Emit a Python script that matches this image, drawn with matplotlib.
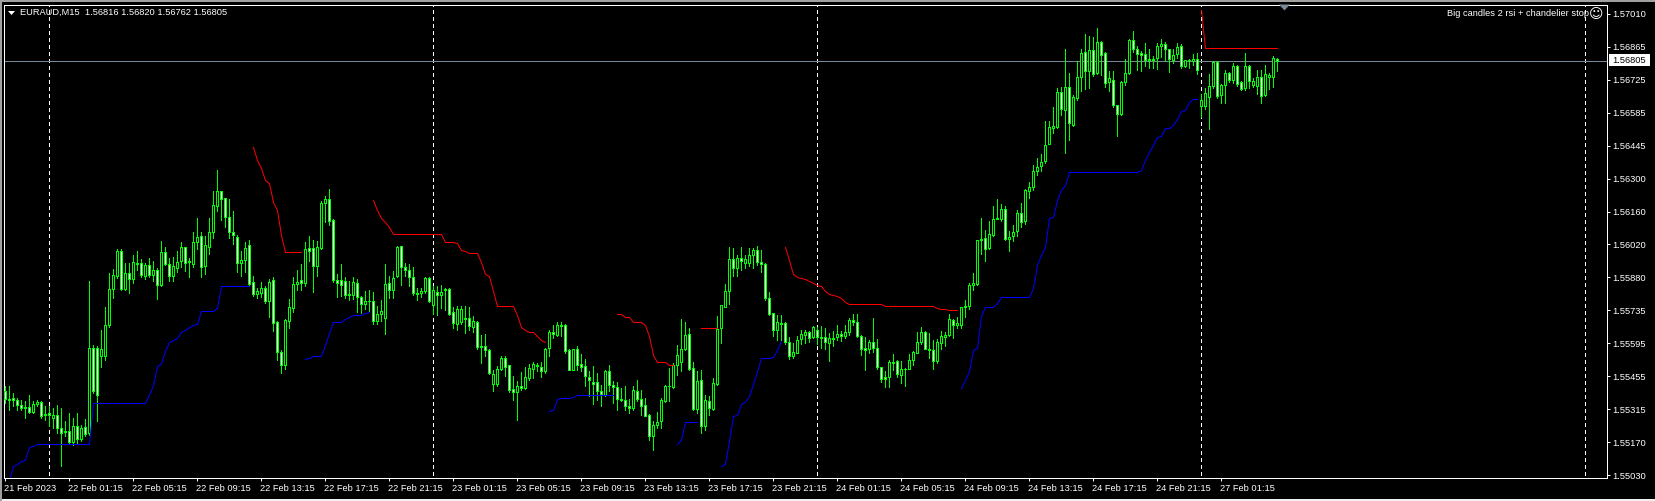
import numpy as np
import matplotlib
matplotlib.use('Agg')
import matplotlib.pyplot as plt
from matplotlib.patches import Polygon, Rectangle

# prices are stored as points above this base (1 point = 0.00001)
BASE = 1.55
POINT = 0.00001

opens = [
    391, 356, 362, 355, 333, 325, 325, 301, 335, 343,
    295, 296, 275, 291, 233, 219, 219, 172, 244, 186,
    238, 212, 576, 576, 543, 543, 677, 831, 886, 993,
    831, 897, 874, 940, 940, 887, 933, 891, 911, 847,
    987, 936, 883, 921, 950, 1008, 950, 937, 1032, 1057,
    926, 1010, 1075, 1186, 1249, 1218, 1139, 1075, 1054, 942,
    954, 1018, 860, 807, 811, 833, 776, 868, 689, 559,
    502, 694, 747, 851, 867, 854, 1004, 1004, 926, 1004,
    1197, 1214, 1125, 868, 868, 864, 808, 802, 854, 793,
    764, 778, 779, 690, 721, 707, 854, 823, 884, 1012,
    924, 912, 881, 813, 813, 821, 878, 760, 818, 804,
    829, 830, 730, 680, 686, 702, 705, 666, 687, 586,
    583, 569, 422, 423, 486, 535, 502, 400, 386, 415,
    403, 448, 487, 505, 495, 476, 576, 645, 633, 676,
    676, 569, 483, 573, 509, 500, 452, 432, 432, 392,
    376, 477, 418, 409, 358, 355, 329, 318, 393, 358,
    333, 291, 201, 245, 262, 348, 415, 409, 505, 516,
    573, 636, 490, 316, 439, 244, 349, 316, 423, 664,
    754, 819, 957, 921, 961, 940, 940, 975, 997, 944,
    936, 790, 726, 652, 683, 683, 602, 540, 557, 615,
    633, 644, 623, 652, 623, 623, 599, 619, 622, 636,
    626, 643, 696, 687, 629, 576, 573, 602, 576, 495,
    450, 450, 517, 520, 460, 487, 487, 523, 557, 600,
    644, 573, 569, 519, 599, 623, 633, 696, 674, 676,
    750, 757, 846, 851, 1040, 1048, 1004, 1060, 1133, 1130,
    1172, 1044, 1055, 1077, 1155, 1120, 1248, 1265, 1335, 1355,
    1376, 1452, 1519, 1524, 1673, 1595, 1695, 1532, 1648, 1740,
    1845, 1762, 1852, 1755, 1887, 1840, 1716, 1726, 1616, 1579,
    1716, 1755, 1895, 1857, 1840, 1835, 1815, 1816, 1819, 1869,
    1880, 1857, 1812, 1837, 1872, 1783, 1812, 1806, 1815, 1612,
    1612, 1651, 1698, 1802, 1661, 1705, 1755, 1723, 1785, 1716,
    1690, 1785, 1702, 1700, 1738, 1659, 1738, 1738, 1816,
]
highs = [
    412, 415, 383, 362, 355, 348, 376, 348, 352, 348,
    326, 326, 319, 333, 319, 262, 298, 276, 298, 248,
    272, 864, 590, 583, 655, 754, 897, 914, 1000, 1000,
    940, 940, 976, 990, 957, 940, 961, 950, 918, 1035,
    1011, 961, 968, 990, 1032, 1010, 960, 1075, 1132, 1074,
    1058, 1132, 1250, 1338, 1249, 1220, 1215, 1165, 1060, 990,
    1032, 1040, 885, 833, 858, 840, 870, 880, 690, 567,
    700, 785, 880, 910, 935, 1032, 1055, 1040, 1035, 1205,
    1230, 1257, 1130, 895, 937, 880, 865, 880, 870, 800,
    822, 823, 818, 758, 783, 935, 887, 905, 1012, 1015,
    941, 938, 924, 834, 834, 880, 881, 840, 843, 847,
    833, 833, 754, 757, 757, 757, 751, 712, 690, 633,
    637, 572, 483, 500, 543, 543, 505, 455, 433, 472,
    497, 507, 515, 512, 515, 576, 652, 676, 689, 687,
    680, 573, 573, 586, 552, 529, 476, 500, 469, 419,
    480, 505, 433, 429, 405, 415, 358, 412, 440, 398,
    362, 295, 263, 300, 362, 419, 490, 512, 590, 702,
    687, 662, 516, 476, 480, 376, 369, 447, 712, 762,
    851, 1008, 1004, 975, 1008, 975, 1004, 1007, 1014, 997,
    940, 818, 726, 719, 719, 686, 625, 597, 626, 654,
    654, 648, 671, 668, 669, 660, 640, 648, 673, 651,
    675, 703, 720, 722, 630, 625, 610, 706, 617, 497,
    478, 524, 551, 525, 520, 490, 552, 565, 643, 666,
    650, 640, 610, 617, 651, 646, 722, 700, 710, 752,
    782, 855, 897, 1040, 1134, 1084, 1122, 1186, 1215, 1192,
    1187, 1078, 1104, 1170, 1199, 1260, 1290, 1362, 1389, 1410,
    1548, 1551, 1610, 1690, 1696, 1857, 1756, 1660, 1805, 1859,
    1923, 1913, 1909, 1948, 1892, 1845, 1765, 1765, 1620, 1720,
    1816, 1900, 1935, 1870, 1848, 1885, 1856, 1828, 1882, 1900,
    1887, 1860, 1860, 1882, 1880, 1811, 1815, 1837, 1840, 1665,
    1690, 1750, 1806, 1805, 1710, 1767, 1758, 1798, 1790, 1720,
    1842, 1790, 1735, 1768, 1770, 1790, 1755, 1827, 1820,
]
lows = [
    341, 312, 326, 312, 312, 276, 298, 298, 326, 276,
    266, 241, 234, 212, 72, 198, 169, 162, 169, 176,
    198, 205, 383, 262, 495, 526, 666, 790, 876, 823,
    823, 811, 854, 911, 880, 871, 880, 864, 787, 840,
    931, 864, 864, 903, 925, 905, 880, 925, 1000, 880,
    895, 980, 1050, 1165, 1125, 1095, 1050, 1020, 900, 885,
    900, 845, 800, 790, 795, 770, 710, 650, 525, 468,
    485, 662, 730, 825, 825, 840, 950, 815, 883, 1000,
    1115, 1105, 860, 797, 800, 790, 780, 785, 730, 725,
    745, 735, 680, 680, 690, 635, 790, 790, 881, 848,
    887, 841, 805, 784, 796, 813, 773, 720, 719, 747,
    740, 719, 662, 654, 680, 640, 654, 647, 573, 512,
    540, 466, 390, 412, 483, 455, 386, 355, 266, 397,
    400, 440, 447, 476, 452, 469, 540, 619, 626, 629,
    557, 480, 480, 483, 476, 412, 369, 338, 355, 326,
    369, 390, 340, 312, 348, 312, 298, 312, 350, 291,
    283, 181, 138, 233, 233, 345, 348, 405, 462, 479,
    569, 480, 312, 298, 212, 226, 291, 312, 419, 597,
    751, 766, 883, 887, 911, 918, 926, 918, 933, 900,
    780, 719, 626, 612, 612, 595, 529, 533, 555, 595,
    597, 600, 619, 592, 576, 570, 519, 583, 610, 608,
    620, 630, 674, 625, 545, 480, 555, 560, 485, 430,
    408, 410, 483, 450, 427, 412, 487, 505, 553, 595,
    570, 535, 485, 510, 570, 585, 628, 618, 660, 660,
    710, 745, 825, 847, 981, 948, 1000, 1055, 1130, 1120,
    1040, 990, 1033, 1055, 1093, 1110, 1220, 1255, 1317, 1337,
    1370, 1450, 1500, 1520, 1576, 1413, 1470, 1530, 1640, 1680,
    1685, 1690, 1743, 1750, 1747, 1695, 1680, 1610, 1487, 1575,
    1705, 1750, 1846, 1768, 1765, 1785, 1775, 1775, 1773, 1825,
    1805, 1761, 1800, 1820, 1778, 1780, 1775, 1790, 1750, 1568,
    1600, 1514, 1690, 1650, 1625, 1628, 1718, 1712, 1700, 1682,
    1682, 1690, 1695, 1665, 1625, 1655, 1686, 1695, 1762,
]
closes = [
    358, 354, 352, 331, 318, 318, 301, 336, 346, 283,
    289, 291, 288, 232, 212, 215, 172, 244, 186, 234,
    209, 576, 392, 376, 572, 674, 829, 889, 993, 831,
    897, 874, 944, 938, 890, 933, 890, 911, 847, 987,
    937, 886, 927, 946, 1008, 940, 945, 1032, 1054, 923,
    1018, 1075, 1190, 1249, 1214, 1139, 1075, 1060, 940, 953,
    1005, 851, 807, 819, 833, 776, 861, 683, 559, 502,
    697, 752, 851, 861, 854, 1000, 990, 926, 1008, 1197,
    1214, 1122, 866, 854, 847, 802, 802, 859, 793, 764,
    778, 778, 693, 722, 736, 851, 826, 876, 1010, 924,
    910, 881, 810, 806, 821, 877, 777, 826, 804, 818,
    823, 723, 683, 743, 744, 705, 669, 690, 579, 580,
    566, 469, 465, 488, 533, 497, 398, 386, 415, 403,
    452, 490, 509, 499, 476, 573, 645, 636, 676, 669,
    565, 483, 572, 502, 497, 455, 440, 423, 392, 380,
    477, 418, 409, 358, 355, 326, 318, 396, 358, 329,
    286, 201, 246, 258, 355, 415, 412, 502, 547, 572,
    633, 488, 316, 436, 241, 353, 319, 426, 659, 759,
    821, 957, 921, 961, 951, 957, 975, 997, 943, 936,
    790, 723, 652, 689, 680, 600, 540, 559, 610, 637,
    644, 620, 666, 622, 620, 600, 620, 617, 636, 629,
    644, 696, 687, 627, 572, 566, 602, 576, 495, 443,
    443, 516, 514, 463, 486, 485, 525, 559, 602, 644,
    572, 566, 519, 602, 629, 633, 702, 674, 683, 751,
    757, 847, 854, 1040, 1042, 1001, 1065, 1130, 1131, 1172,
    1044, 1052, 1074, 1155, 1117, 1255, 1267, 1335, 1352, 1374,
    1448, 1523, 1526, 1673, 1601, 1695, 1541, 1652, 1738, 1840,
    1762, 1852, 1750, 1887, 1833, 1712, 1733, 1616, 1579, 1716,
    1753, 1895, 1857, 1836, 1833, 1812, 1810, 1812, 1869, 1880,
    1857, 1815, 1833, 1866, 1783, 1810, 1811, 1815, 1766, 1639,
    1669, 1699, 1802, 1658, 1705, 1755, 1723, 1785, 1708, 1688,
    1785, 1719, 1719, 1738, 1658, 1750, 1748, 1819, 1805,
]

# chandelier stop pieces: (first bar index, values)
red_stops = [
    (62, [1438, 1382, 1346, 1296, 1282, 1204, 1168, 1061] + [987] * 5),
    (92, [1211, 1168, 1132, 1118, 1097] + [1064] * 13 + [1030, 1030, 1030, 1027, 997, 990,
          983, 983, 983, 947, 894, 886, 819] + [757] * 5 + [719, 666, 654, 644, 644, 626, 612, 600]),
    (153, [722, 722, 709, 709, 687, 687, 687, 676, 626, 547, 516, 516, 515, 505, 505]),
    (174, [662] * 5),
    (195, [1010, 954, 894, 880, 876, 873, 864, 854, 847, 840, 819, 809, 804, 801, 790, 773]
          + [764] * 9 + [756] * 13 + [746, 743, 743, 739, 739, 739]),
    (299, [2024] + [1864] * 19),
]
blue_stops = [
    (1, [10, 69, 79, 91, 98, 152, 155] + [165] * 14 + [341] * 14 + [376, 419, 500, 509, 562, 600,
         612, 619, 645, 655, 666, 675, 680, 734, 734, 734, 734, 747] + [841] * 8),
    (75, [529, 533, 543, 543, 543, 590, 640, 687, 687, 687, 700, 709, 716, 717, 719, 726, 729]),
    (136, [306, 312, 359, 362, 362, 362, 366] + [375] * 10),
    (168, [165, 181, 259, 259, 259, 259]),
    (179, [69, 79, 176, 286, 291, 338, 343, 369, 423, 476, 533, 533, 533, 536, 569, 605]),
    (239, [403, 440, 476, 569, 576, 712, 752, 752, 752, 769] + [794] * 8 + [833, 933, 976, 1011,
           1133, 1139, 1211, 1254, 1275] + [1329] * 18 + [1339, 1382, 1418, 1446, 1480, 1485,
           1518, 1519, 1532, 1560, 1593, 1596, 1632, 1645, 1645]),
]

separator_bars = [11, 107, 203, 299, 395]
time_tick_bars = list(range(0, 305, 16))
time_labels = [
    '21 Feb 2023', '22 Feb 01:15', '22 Feb 05:15', '22 Feb 09:15', '22 Feb 13:15',
    '22 Feb 17:15', '22 Feb 21:15', '23 Feb 01:15', '23 Feb 05:15', '23 Feb 09:15',
    '23 Feb 13:15', '23 Feb 17:15', '23 Feb 21:15', '24 Feb 01:15', '24 Feb 05:15',
    '24 Feb 09:15', '24 Feb 13:15', '24 Feb 17:15', '24 Feb 21:15', '27 Feb 01:15',
]
price_labels = [
    '1.55030', '1.55170', '1.55315', '1.55455', '1.55595', '1.55735', '1.55880', '1.56020',
    '1.56160', '1.56300', '1.56445', '1.56585', '1.56725', '1.56865', '1.57010',
]
last_price = 1.56805
shift_bar = 320

W, H = 1655, 501
GREEN = '#00FF00'
GREY = '#778899'
FONT = 'Liberation Sans'
FS = 6.7
LW = 0.72  # one pixel at dpi 100


def to_price(values):
    return BASE + np.asarray(values, dtype=float) * POINT


def fx(px):
    return px / W


def fy(py):
    return 1 - py / H


def main():
    o, h, l, c = to_price(opens), to_price(highs), to_price(lows), to_price(closes)
    bars = np.arange(len(o))

    fig = plt.figure(figsize=(W / 100, H / 100), dpi=100, facecolor='black')
    ax = fig.add_axes([fx(3.5), fy(477.5), 1603 / W, 473 / H], facecolor='black')

    # window borders
    fig.add_artist(Rectangle((0, fy(2)), 1, 2 / H, color='#a0a0a0', lw=0))
    fig.add_artist(Rectangle((0, 0), 1, 2 / H, color='#f0f0f0', lw=0))
    fig.add_artist(Rectangle((0, 0), 2 / W, 1, color='#a0a0a0', lw=0))

    for b in separator_bars:
        ax.plot([b, b], [to_price(30), to_price(2048)], color='white', lw=LW,
                ls=(0, (4, 4)), antialiased=False, zorder=1)
    ax.axhline(last_price, color=GREY, lw=LW, antialiased=False, zorder=2)

    ax.vlines(bars, l, h, colors=GREEN, lw=LW, antialiased=False, zorder=3)
    fills = ['white' if cl < op else 'black' for op, cl in zip(o, c)]
    ax.bar(bars, np.abs(c - o), bottom=np.minimum(o, c), width=0.5, color=fills,
           edgecolor=GREEN, linewidth=LW, antialiased=False, zorder=4)

    for start, values in red_stops:
        ax.plot(np.arange(start, start + len(values)), to_price(values), color='#FF0000',
                lw=LW, snap=True, zorder=5)
    for start, values in blue_stops:
        ax.plot(np.arange(start, start + len(values)), to_price(values), color='#0000FF',
                lw=LW, snap=True, zorder=5)

    ax.set_xlim(-0.25, 400.5)
    # 462 px between the 1.55030 and 1.57010 ticks
    ax.set_ylim(BASE + 21.4 * POINT, BASE + 2048.6 * POINT)

    ax.set_xticks(time_tick_bars)
    ax.set_xticklabels(time_labels, ha='left', family=FONT, fontsize=FS, color='white')
    ax.set_yticks(np.linspace(to_price(30), to_price(2010), len(price_labels)))
    ax.set_yticklabels(price_labels, family=FONT, fontsize=FS, color='white')
    ax.yaxis.tick_right()
    ax.tick_params(axis='x', length=2.2, width=LW, color='white', pad=2.5)
    ax.tick_params(axis='y', length=2.2, width=LW, color='white', pad=1.7)
    for side in ax.spines.values():
        side.set_color('white')
        side.set_linewidth(LW)

    # last price box
    fig.add_artist(Rectangle((fx(1609), fy(66)), 41 / W, 12 / H, color='white', lw=0))
    fig.text(fx(1612.5), fy(60.3), f'{last_price:.5f}', family=FONT, fontsize=FS, color='black',
             va='center', ha='left')

    # chart header
    fig.add_artist(Polygon([(fx(8), fy(11)), (fx(15), fy(11)), (fx(11.5), fy(15))], color='white', lw=0))
    fig.text(fx(20), fy(12.5), 'EURAUD,M15  1.56816 1.56820 1.56762 1.56805', family=FONT,
             fontsize=FS, color='white', va='center', ha='left')
    fig.text(fx(1589), fy(14), 'Big candles 2 rsi + chandelier stop', family=FONT, fontsize=FS,
             color='white', va='center', ha='right')
    fig.text(fx(1596.5), fy(14), '\u263a', family='DejaVu Sans', fontsize=10, color='white',
             va='center', ha='center')

    # chart shift marker
    sx = ax.transData.transform((shift_bar, 0))[0]
    fig.add_artist(Polygon([(fx(sx - 5.5), fy(4.5)), (fx(sx + 5.5), fy(4.5)), (fx(sx), fy(10.5))], color=GREY, lw=0))

    fig.savefig('out.png', dpi=100, facecolor='black')
    plt.close(fig)


if __name__ == "__main__":
    main()
